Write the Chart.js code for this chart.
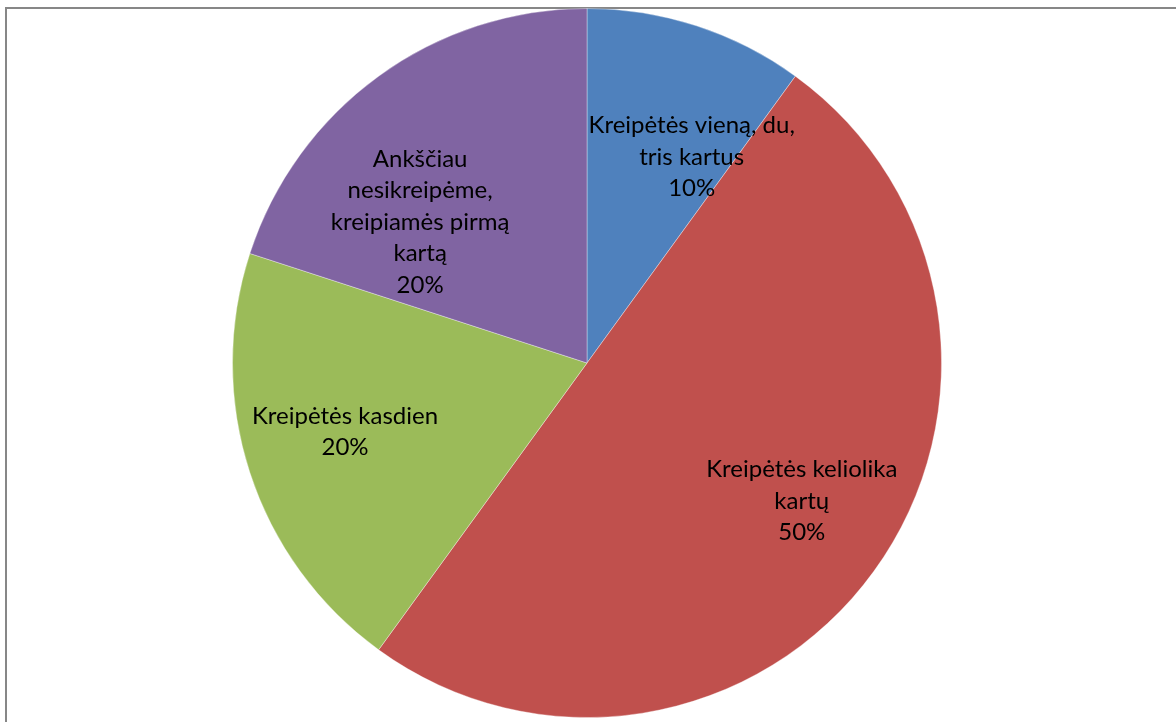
<!DOCTYPE html>
<html>
<head>
<meta charset="utf-8">
<script src="https://cdn.jsdelivr.net/npm/chart.js@4/dist/chart.umd.min.js"></script>
<style>
  html, body { margin: 0; padding: 0; background: #fff; overflow: hidden; }
  #frame {
    position: absolute; left: 5px; top: 7px; width: 1300px; height: 900px;
    border-left: 2px solid #878787; border-top: 2px solid #878787;
  }
  #wrap { position: absolute; left: 0; top: 0; width: 1176px; height: 722px; }
</style>
</head>
<body>
<div id="frame"></div>
<div id="wrap"><canvas id="chart"></canvas></div>
<script>
let categories = [
  'Kreipėtės vieną, du, tris kartus',
  'Kreipėtės keliolika kartų',
  'Kreipėtės kasdien',
  'Ankščiau nesikreipėme, kreipiamės pirmą kartą'
];
let values = [10, 50, 20, 20];
let labelLines = [
  ['Kreipėtės vieną, du,', 'tris kartus'],
  ['Kreipėtės keliolika', 'kartų'],
  ['Kreipėtės kasdien'],
  ['Ankščiau', 'nesikreipėme,', 'kreipiamės pirmą', 'kartą']
];
let colors = ['#4f81bd', '#c0504d', '#9bbb59', '#8064a2'];

// where each label sits: fraction of radius along the mid angle, then a nudge (px)
const labelPlace = [
  { r: 0.7, dx: 28, dy: 30 },
  { r: 0.7, dx: 14, dy: -8 },
  { r: 0.7, dx: -6, dy: -8 },
  { r: 0.7, dx: -21, dy: 60 }
];

const sliceLabels = {
  id: 'sliceLabels',
  afterDatasetsDraw(chart) {
    let ctx = chart.ctx;
    let meta = chart.getDatasetMeta(0);
    let total = values.reduce((a, b) => a + b, 0);
    ctx.save();
    ctx.font = '24px Lato, "Open Sans", sans-serif';
    ctx.fillStyle = '#000';
    ctx.textAlign = 'center';
    ctx.textBaseline = 'middle';
    meta.data.forEach((arc, i) => {
      let p = arc.getProps(['x', 'y', 'startAngle', 'endAngle', 'outerRadius'], true);
      let mid = (p.startAngle + p.endAngle) / 2;
      let d = p.outerRadius * labelPlace[i].r;
      let cx = p.x + Math.cos(mid) * d + labelPlace[i].dx;
      let cy = p.y + Math.sin(mid) * d + labelPlace[i].dy;
      let lines = labelLines[i].concat([Math.round(values[i] / total * 100) + '%']);
      let lh = 31.5;
      let y0 = cy - (lines.length - 1) * lh / 2;
      lines.forEach((t, k) => ctx.fillText(t, cx, y0 + k * lh));
    });
    ctx.restore();
  }
};

new Chart(document.getElementById('chart'), {
  type: 'pie',
  data: {
    labels: categories,
    datasets: [{
      data: values,
      backgroundColor: colors,
      borderColor: 'rgba(255,255,255,0.35)',
      borderWidth: 1
    }]
  },
  options: {
    responsive: true,
    maintainAspectRatio: false,
    animation: false,
    layout: { padding: { top: 8, bottom: 4, left: 0, right: 2 } },
    plugins: {
      legend: { display: false },
      tooltip: { enabled: false }
    }
  },
  plugins: [sliceLabels]
});
</script>
</body>
</html>
